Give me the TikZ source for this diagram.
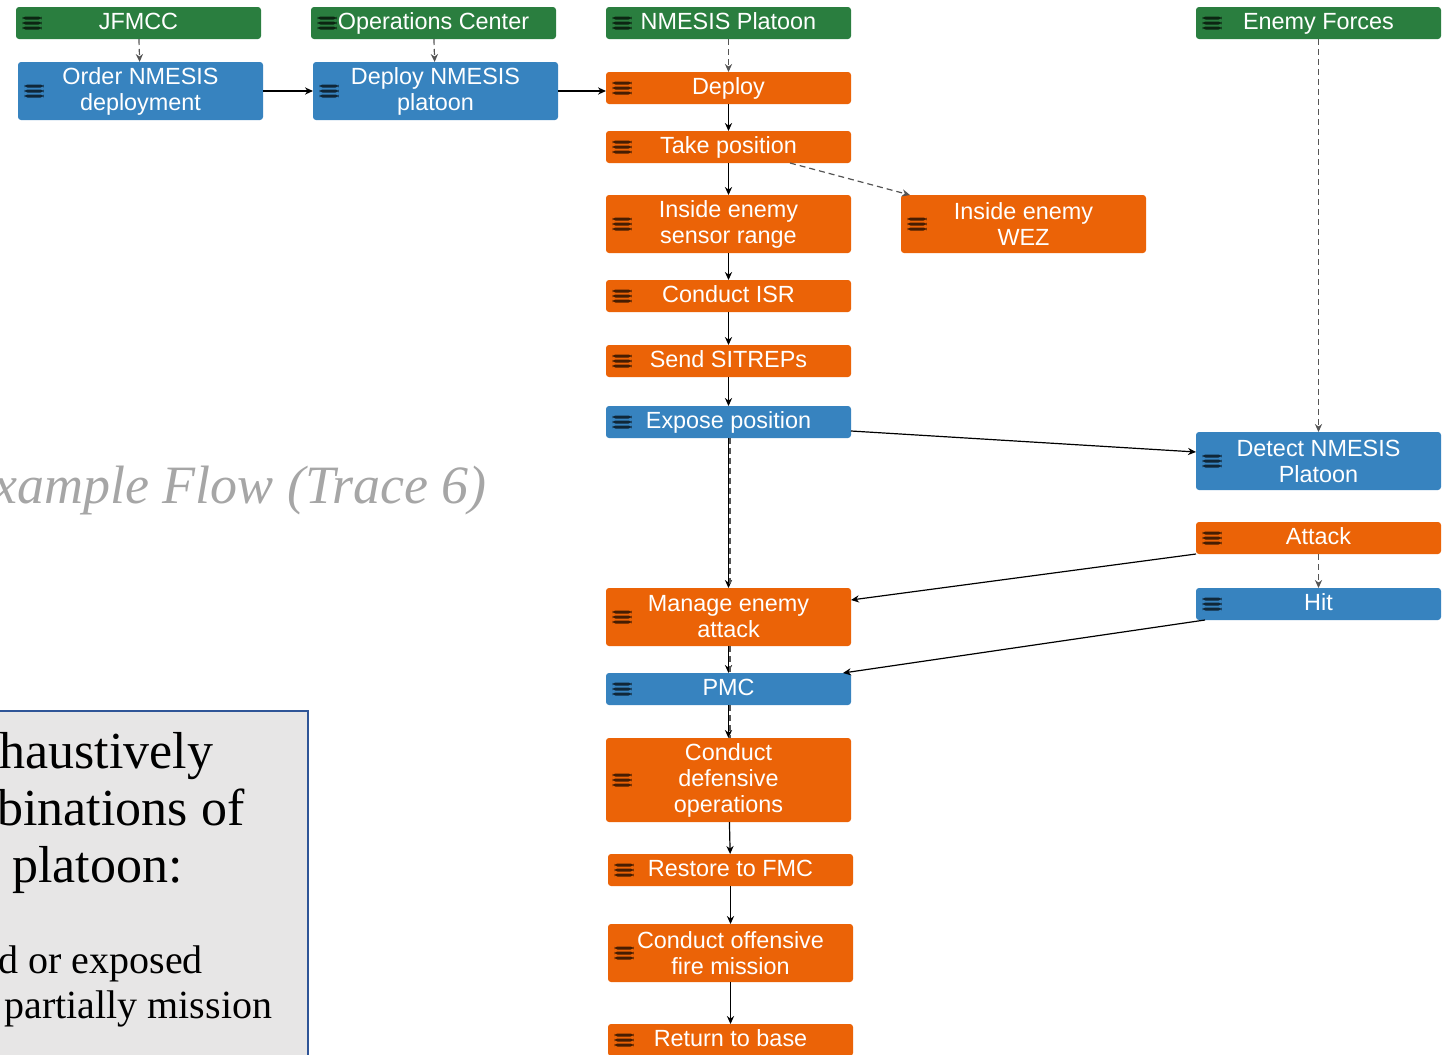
\documentclass[tikz,border=0pt]{standalone}
\usepackage{fontspec}
\setmainfont{Liberation Serif}
\setsansfont{Liberation Sans}
\usetikzlibrary{arrows.meta,calc,positioning}
\definecolor{actor}{HTML}{2A7E3F}
\definecolor{ctrl}{HTML}{3783BF}
\definecolor{task}{HTML}{EB6307}
\definecolor{note}{HTML}{E7E6E6}
\definecolor{noteedge}{HTML}{2F5597}
\definecolor{faint}{HTML}{A6A6A6}
\definecolor{link}{HTML}{555555}
\tikzset{
  >={Stealth[length=4pt,width=3.6pt]},
  menu/.style={path picture={
      \foreach \dy in {-2.5pt,0pt,2.5pt}
        \fill[black,opacity=.7]
          ([xshift=3.25pt,yshift=\dy-0.75pt]path picture bounding box.west)
          rectangle ++(9.5pt,1.5pt);}},
  tracebox/.style={menu,rounded corners=1.5pt,minimum width=122.5pt,
                   minimum height=16pt,inner sep=1pt,outer sep=0pt,align=center,
                   text=white,text height=8.4pt,text depth=2.4pt,
                   font=\sffamily\fontsize{11.7}{13}\selectfont},
  actorbox/.style={tracebox,fill=actor},
  ctrlbox/.style={tracebox,fill=ctrl},
  taskbox/.style={tracebox,fill=task},
  twoline/.style={minimum height=29pt,text height={},text depth={}},
  threeline/.style={minimum height=42pt,text height={},text depth={}},
  flow/.style={->,line width=0.6pt,draw=black},
  trig/.style={->,line width=0.6pt,draw=link,dash pattern=on 3pt off 2pt},
  notebox/.style={fill=note,draw=noteedge,line width=1pt,inner sep=0pt},
  bigline/.style={anchor=base west,inner sep=0pt,font=\fontsize{26}{30}\selectfont},
  smallline/.style={anchor=base west,inner sep=0pt,font=\fontsize{20}{24}\selectfont}
}

\begin{document}
\begin{tikzpicture}[x=0.5pt,y=-0.5pt]
  \useasboundingbox (0,0) rectangle (1448,1055);
  \clip (0,0) rectangle (1448,1055);

  % lane heads
  \node[actorbox] (jfmcc) at (138.5,23) {JFMCC};
  \node[actorbox] (opscenter) at (433.5,23) {Operations Center};
  \node[actorbox] (platoon) at (728.5,23) {NMESIS Platoon};
  \node[actorbox] (enemy) at (1318.5,23) {Enemy Forces};

  % command chain
  \node[ctrlbox,twoline,below=11.5pt of jfmcc,xshift=1pt] (order)
    {Order NMESIS\\deployment};
  \node[ctrlbox,twoline,below=11.5pt of opscenter,xshift=1pt] (deployplt)
    {Deploy NMESIS\\platoon};

  % platoon lane
  \node[taskbox,below=16.5pt of platoon] (deploy) {Deploy};
  \node[taskbox,below=13.5pt of deploy] (takepos) {Take position};
  \node[taskbox,twoline,below=16pt of takepos] (sensor) {Inside enemy\\sensor range};
  \node[taskbox,twoline,right=25pt of sensor] (wez) {Inside enemy\\WEZ};
  \node[taskbox,below=13.5pt of sensor] (isr) {Conduct ISR};
  \node[taskbox,below=16.5pt of isr] (sitrep) {Send SITREPs};
  \node[ctrlbox,below=14.5pt of sitrep] (expose) {Expose position};
  \node[taskbox,twoline,below=75pt of expose] (manage) {Manage enemy\\attack};
  \node[ctrlbox,below=13.5pt of manage] (pmc) {PMC};
  \node[taskbox,threeline,below=16.5pt of pmc] (defend) {Conduct\\defensive\\operations};
  \node[taskbox,below=16pt of defend,xshift=1pt] (restore) {Restore to FMC};
  \node[taskbox,twoline,below=19pt of restore] (offense) {Conduct offensive\\fire mission};
  \node[taskbox,below=21pt of offense] (rtb) {Return to base};

  % enemy lane
  \node[ctrlbox,twoline,below=196.5pt of enemy] (detect) {Detect NMESIS\\Platoon};
  \node[taskbox,below=16pt of detect] (attack) {Attack};
  \node[ctrlbox,below=17pt of attack] (hit) {Hit};

  % triggers
  \draw[trig] (jfmcc) -- (order);
  \draw[trig] (opscenter) -- (deployplt);
  \draw[trig] (platoon) -- (deploy);
  \draw[trig] (enemy) -- (detect);
  \draw[trig] (attack) -- (hit);
  \draw[trig] ([xshift=-30.5pt]takepos.south east) -- ([xshift=4.5pt]wez.north west);

  % flow
  \draw[flow] (order) -- (deployplt);
  \draw[flow] (deployplt.east) -- (deployplt.east -| deploy.west);
  \foreach \a/\b in {deploy/takepos,takepos/sensor,sensor/isr,isr/sitrep,
                     sitrep/expose,expose/manage,manage/pmc,pmc/defend,
                     defend/restore,restore/offense,offense/rtb}
    \draw[flow] (\a) -- (\b);
  \foreach \a/\b in {expose/manage,manage/pmc,pmc/defend}
    \draw[trig,-] ([xshift=0.7pt]\a.south) -- ([xshift=0.7pt]\b.north);
  \draw[flow] ([yshift=-4.5pt]expose.east) -- ([yshift=4.5pt]detect.west);
  \draw[flow] (attack.south west) -- ([yshift=8.5pt]manage.east);
  \draw[flow] ([xshift=4.5pt]hit.south west) -- ([xshift=-4pt]pmc.north east);

  % slide text behind
  \node[anchor=base east,inner sep=0pt,text=faint,
        font=\itshape\fontsize{27}{31}\selectfont] (title) at (487,503)
    {Example Flow (Trace 6)};
  \node[notebox,anchor=north east,minimum width=170pt,minimum height=190pt] (note)
    at (309,710) {};
  \node[bigline] (noteone) at (-1,768) {haustively};
  \node[bigline] (notetwo) at (-3,825) {binations of};
  \node[bigline] (notethree) at (12,882) {platoon:};
  \node[smallline] (notefour) at (-2,973) {d or exposed};
  \node[smallline] (notefive) at (4,1018) {partially mission};
\end{tikzpicture}
\end{document}
